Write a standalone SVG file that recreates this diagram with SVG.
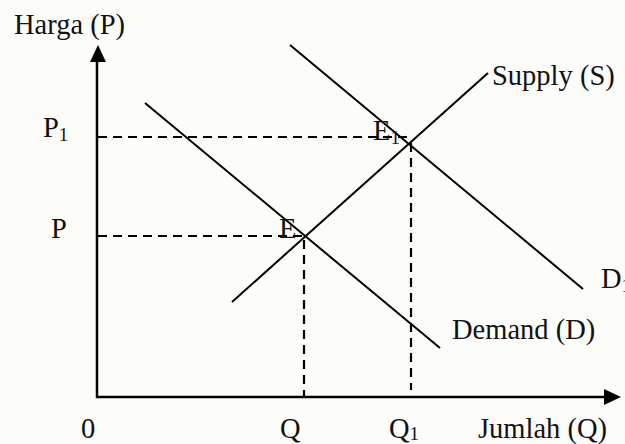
<svg xmlns="http://www.w3.org/2000/svg" width="625" height="444" viewBox="0 0 625 444">
<style>
text{font-family:"Liberation Serif","Times New Roman",serif;font-size:28.5px;fill:#111}
.sub{font-size:19px}
.ax{stroke:#000;stroke-width:2.5;fill:none}
.ln{stroke:#000;stroke-width:2;fill:none}
.ds{stroke:#000;stroke-width:2.2;fill:none;stroke-dasharray:9 6}
</style>
<rect width="625" height="444" fill="#fcfdf8"/>
<g id="axes">
<line class="ax" x1="97" y1="60" x2="97" y2="398"/>
<line class="ax" x1="96" y1="397" x2="606" y2="397"/>
<polygon points="98,45 90,62 106,62" fill="#000"/>
<polygon points="621,397 604,389 604,405" fill="#000"/>
</g>
<g id="guides">
<line class="ds" x1="98" y1="137" x2="408" y2="137"/>
<line class="ds" x1="98" y1="236" x2="303" y2="236"/>
<line class="ds" x1="304" y1="240" x2="304" y2="397"/>
<line class="ds" x1="411" y1="143" x2="411" y2="390"/>
</g>
<g id="curves">
<line class="ln" x1="232" y1="302" x2="488" y2="73"/>
<line class="ln" x1="145" y1="103" x2="440" y2="348"/>
<line class="ln" x1="290" y1="45" x2="583" y2="289"/>
</g>
<g id="labels">
<text x="14" y="34">Harga (P)</text>
<text x="492" y="85">Supply (S)</text>
<text x="43" y="137">P<tspan class="sub" dy="4">1</tspan></text>
<text x="51" y="238">P</text>
<text x="279" y="238">E</text>
<text x="373" y="140">E<tspan class="sub" dy="4">1</tspan></text>
<text x="601" y="288">D<tspan class="sub" dy="4">1</tspan></text>
<text x="452" y="339">Demand (D)</text>
<text x="81" y="438">0</text>
<text x="280" y="438">Q</text>
<text x="389" y="438">Q<tspan class="sub" dy="2">1</tspan></text>
<text x="478" y="438">Jumlah (Q)</text>
</g>
</svg>
